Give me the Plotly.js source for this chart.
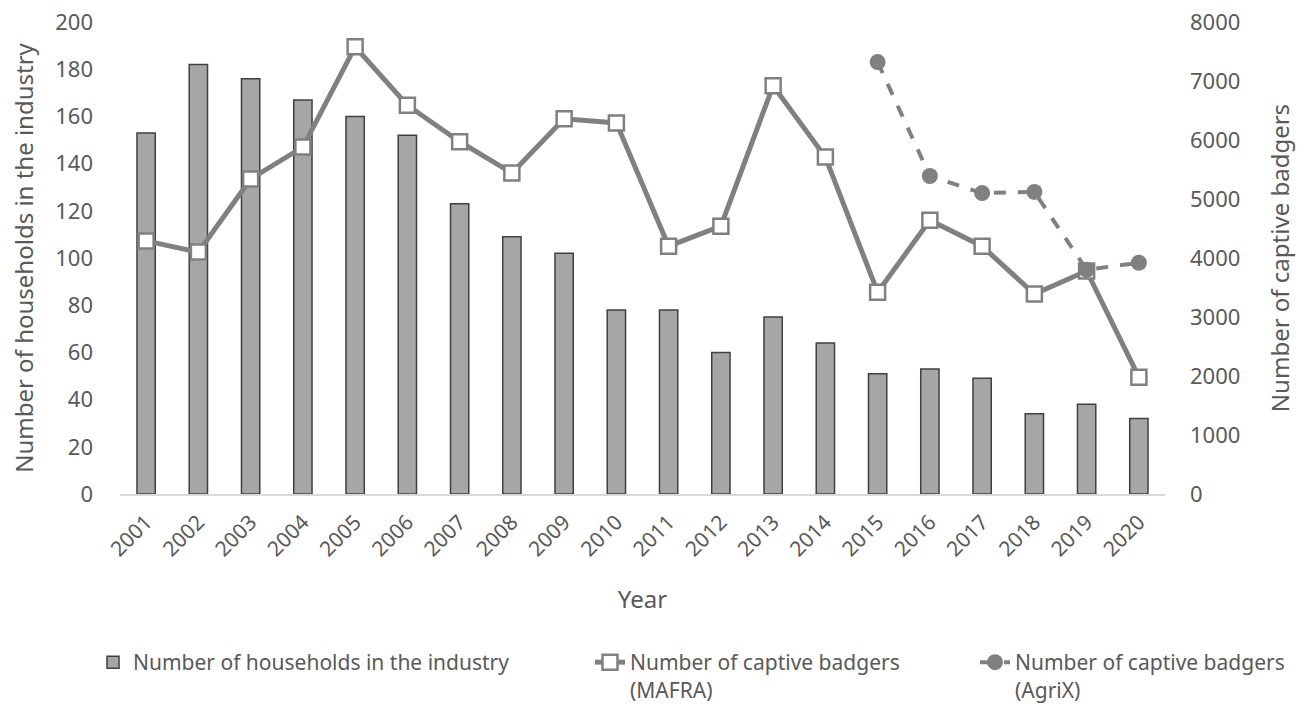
<!DOCTYPE html>
<html><head><meta charset="utf-8">
<script src="https://cdn.plot.ly/plotly-3.0.1.min.js"></script>
<style>body{margin:0;background:#fff}#c{width:1308px;height:709px}</style>
</head><body><div id="c"></div>
<script>
const years = ['2001','2002','2003','2004','2005','2006','2007','2008','2009','2010','2011','2012','2013','2014','2015','2016','2017','2018','2019','2020'];
const households = [153,182,176,167,160,152,123,109,102,78,78,60,75,64,51,53,49,34,38,32];
const badgersMAFRA = [4290,4100,5340,5880,7580,6590,5970,5440,6360,6290,4200,4540,6920,5710,3420,4640,4200,3390,3780,1980];
const agrixYears = ['2015','2016','2017','2018','2019','2020'];
const badgersAgriX = [7320,5390,5100,5120,3800,3920];

const font = 'Noto Sans, Liberation Sans, sans-serif';
const tc = '#595959';
const traces = [
  {type:'bar', x:years, y:households, name:'Number of households in the industry', legend:'legend',
   marker:{color:'#a6a6a6', line:{color:'#404040', width:1.5}}, width:0.35},
  {type:'scatter', mode:'lines+markers', x:years, y:badgersMAFRA, yaxis:'y2', legend:'legend2',
   name:'Number of captive badgers<br>(MAFRA)',
   line:{color:'#808080', width:5},
   marker:{symbol:'square', size:15, color:'#ffffff', line:{color:'#808080', width:2.5}}},
  {type:'scatter', mode:'lines+markers', x:agrixYears, y:badgersAgriX, yaxis:'y2', legend:'legend3',
   name:'Number of captive badgers<br>(AgriX)',
   line:{color:'#808080', width:4, dash:'dash'},
   marker:{symbol:'circle', size:16, color:'#808080'}}
];
function leg(x){
  return {orientation:'h', xref:'container', yref:'container', x:x/1308, y:1-642/709, xanchor:'left', yanchor:'top',
    font:{size:21, color:tc}, valign:'top', bgcolor:'rgba(0,0,0,0)'};
}
const layout = {
  width:1308, height:709,
  margin:{l:120, r:143, t:22, b:215},
  paper_bgcolor:'#fff', plot_bgcolor:'#fff',
  font:{family:font, color:tc, size:21},
  showlegend:true,
  xaxis:{type:'category', range:[-0.5,19.5], tickangle:-45, showline:true, linecolor:'#d9d9d9', linewidth:1.5,
    ticks:'', showgrid:false, tickfont:{size:21, color:tc}, automargin:false, ticklabelstandoff:6,
    title:{text:'Year', font:{size:24, color:tc}, standoff:30}},
  yaxis:{range:[0,200], dtick:20, showgrid:false, zeroline:false, ticks:'', automargin:false,
    tickfont:{size:22, color:tc}, ticklabelstandoff:26,
    title:{text:'Number of households in the industry', font:{size:24, color:tc}, standoff:14}},
  yaxis2:{range:[0,8000], dtick:1000, overlaying:'y', side:'right', showgrid:false, zeroline:false, ticks:'', automargin:false,
    tickfont:{size:22, color:tc}, ticklabelstandoff:24,
    title:{text:'Number of captive badgers', font:{size:24, color:tc}, standoff:32}},
  legend:leg(93),
  legend2:leg(590),
  legend3:leg(975)
};
Plotly.newPlot('c', traces, layout, {displayModeBar:false});
</script></body></html>
